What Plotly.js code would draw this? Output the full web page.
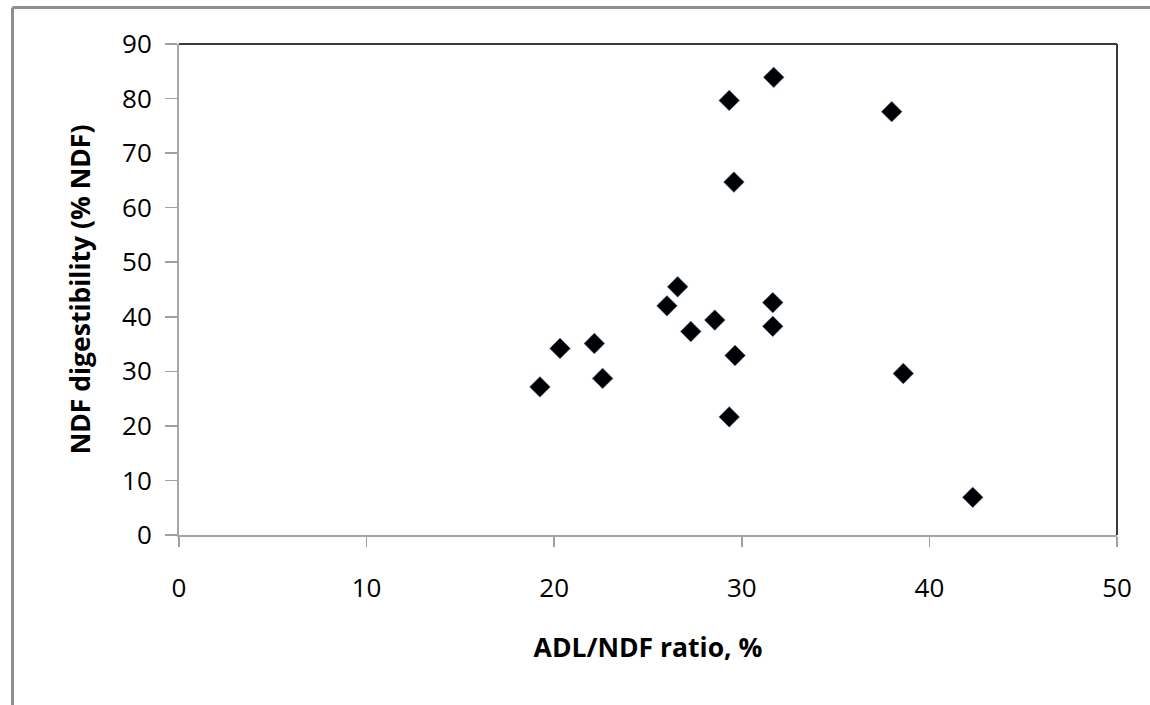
<!DOCTYPE html>
<html>
<head>
<meta charset="utf-8">
<script src="https://cdn.plot.ly/plotly-3.0.1.min.js"></script>
<style>html,body{margin:0;padding:0;background:#fff;}#chart{width:1150px;height:705px;}</style>
</head>
<body>
<div id="chart"></div>
<script>
const adlNdfRatio = [19.24, 20.31, 22.14, 22.58, 26.01, 26.58, 27.28, 28.56, 29.64, 29.33, 31.65, 31.65, 29.33, 31.70, 37.99, 29.58, 38.61, 42.31];
const ndfDigestibility = [27.15, 34.2, 35.1, 28.7, 42.0, 45.5, 37.3, 39.4, 32.9, 21.65, 42.6, 38.25, 79.65, 83.9, 77.6, 64.7, 29.6, 6.9];
const xTicks = [0, 10, 20, 30, 40, 50];
const yTicks = [0, 10, 20, 30, 40, 50, 60, 70, 80, 90];
const xTitle = 'ADL/NDF ratio, %';
const yTitle = 'NDF digestibility (% NDF)';

const trace = {
  x: adlNdfRatio,
  y: ndfDigestibility,
  type: 'scatter',
  mode: 'markers',
  marker: {symbol: 'diamond', size: 16, color: '#000000', line: {color: 'rgba(110,150,200,0.55)', width: 1}},
  hoverinfo: 'x+y'
};

const fontFam = '"Open Sans", "DejaVu Sans", sans-serif';
const layout = {
  width: 1150, height: 705,
  margin: {l: 179, r: 33, t: 44, b: 170},
  paper_bgcolor: '#ffffff', plot_bgcolor: '#ffffff',
  showlegend: false,
  font: {family: fontFam, color: '#000000'},
  xaxis: {
    range: [0, 50], tickvals: xTicks, ticktext: xTicks.map(String),
    showgrid: false, zeroline: false, showline: true, linecolor: '#a6a6a6', linewidth: 2,
    ticks: 'outside', ticklen: 10, tickwidth: 1.5, tickcolor: '#a0a0a0',
    tickfont: {size: 26, family: fontFam, color: '#000'},
    ticklabelstandoff: 19,
    title: {text: xTitle, font: {size: 26.5, family: fontFam, color: '#000', weight: 'bold'}, standoff: 34},
    fixedrange: true
  },
  yaxis: {
    range: [0, 90], tickvals: yTicks, ticktext: yTicks.map(String),
    showgrid: false, zeroline: false, showline: true, linecolor: '#a6a6a6', linewidth: 2,
    ticks: 'outside', ticklen: 12, tickwidth: 1.5, tickcolor: '#a0a0a0',
    tickfont: {size: 26, family: fontFam, color: '#000'},
    ticklabelstandoff: 8,
    title: {text: yTitle, font: {size: 26.5, family: fontFam, color: '#000', weight: 'bold'}, standoff: 24},
    fixedrange: true
  },
  shapes: [
    {type: 'line', xref: 'paper', yref: 'paper', x0: 0, x1: 1, y0: 1, y1: 1, line: {color: '#3a3a3a', width: 2}},
    {type: 'line', xref: 'paper', yref: 'paper', x0: 1, x1: 1, y0: 0, y1: 1, line: {color: '#3a3a3a', width: 2}},
    {type: 'line', xref: 'paper', yref: 'paper', x0: -0.1775, x1: -0.1775, y0: -0.36, y1: 1.0743, line: {color: '#8f8f8f', width: 3}},
    {type: 'line', xref: 'paper', yref: 'paper', x0: -0.1775, x1: 1.05, y0: 1.0743, y1: 1.0743, line: {color: '#8f8f8f', width: 3}}
  ]
};

Plotly.newPlot('chart', [trace], layout, {displayModeBar: false, staticPlot: true});
</script>
</body>
</html>
